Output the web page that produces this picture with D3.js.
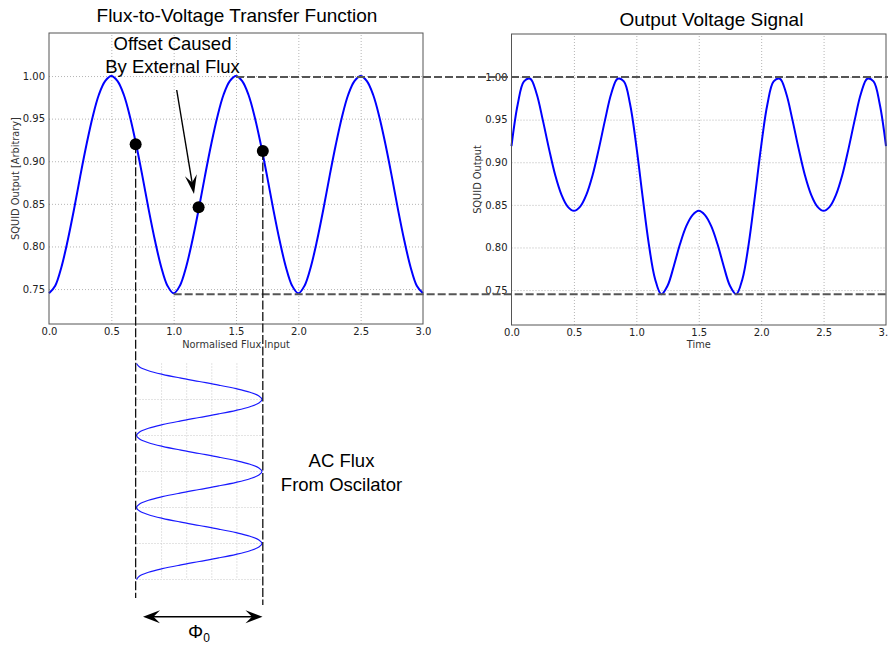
<!DOCTYPE html>
<html><head><meta charset="utf-8">
<script src="https://cdn.jsdelivr.net/npm/d3@7"></script>
<style>body{margin:0;background:#fff}</style>
</head><body>
<svg id="c" width="888" height="648"></svg>
<script>
// ---------- data ----------
const fluxInput = [0.00,0.05,0.10,0.15,0.20,0.25,0.30,0.35,0.40,0.45,0.50,0.55,0.60,0.65,0.70,0.75,0.80,0.85,0.90,0.95,
  1.00,1.05,1.10,1.15,1.20,1.25,1.30,1.35,1.40,1.45,1.50,1.55,1.60,1.65,1.70,1.75,1.80,1.85,1.90,1.95,
  2.00,2.05,2.10,2.15,2.20,2.25,2.30,2.35,2.40,2.45,2.50,2.55,2.60,2.65,2.70,2.75,2.80,2.85,2.90,2.95,3.00];
const squidOutput = [0.745,0.754,0.776,0.807,0.843,0.882,0.919,0.952,0.978,0.994,1.000,0.994,0.978,0.952,0.919,0.882,0.843,0.807,0.776,0.754,
  0.745,0.754,0.776,0.807,0.843,0.882,0.919,0.952,0.978,0.994,1.000,0.994,0.978,0.952,0.919,0.882,0.843,0.807,0.776,0.754,
  0.745,0.754,0.776,0.807,0.843,0.882,0.919,0.952,0.978,0.994,1.000,0.994,0.978,0.952,0.919,0.882,0.843,0.807,0.776,0.754,0.745];
const timeValues = [0.00,0.05,0.10,0.15,0.20,0.25,0.30,0.35,0.40,0.45,0.50,0.55,0.60,0.65,0.70,0.75,0.80,0.85,0.90,0.95,
  1.00,1.05,1.10,1.15,1.20,1.25,1.30,1.35,1.40,1.45,1.50,1.55,1.60,1.65,1.70,1.75,1.80,1.85,1.90,1.95,
  2.00,2.05,2.10,2.15,2.20,2.25,2.30,2.35,2.40,2.45,2.50,2.55,2.60,2.65,2.70,2.75,2.80,2.85,2.90,2.95,3.00];
const outputVoltage = [0.919,0.968,0.995,0.998,0.981,0.950,0.916,0.885,0.862,0.848,0.843,0.848,0.862,0.885,0.916,0.950,0.981,0.998,0.995,0.968,
  0.919,0.860,0.804,0.763,0.745,0.755,0.778,0.804,0.825,0.838,0.843,0.838,0.825,0.804,0.778,0.755,0.745,0.763,0.804,0.860,
  0.919,0.968,0.995,0.998,0.981,0.950,0.916,0.885,0.862,0.848,0.843,0.848,0.862,0.885,0.916,0.950,0.981,0.998,0.995,0.968,0.919];
const acTime = timeValues;
const acFlux = [-1,-0.951,-0.809,-0.588,-0.309,0,0.309,0.588,0.809,0.951,1,0.951,0.809,0.588,0.309,0,-0.309,-0.588,-0.809,-0.951,
  -1,-0.951,-0.809,-0.588,-0.309,0,0.309,0.588,0.809,0.951,1,0.951,0.809,0.588,0.309,0,-0.309,-0.588,-0.809,-0.951,
  -1,-0.951,-0.809,-0.588,-0.309,0,0.309,0.588,0.809,0.951,1,0.951,0.809,0.588,0.309,0,-0.309,-0.588,-0.809,-0.951,-1];
const markerFlux = [0.695, 1.200, 1.715];
const markerOutput = [0.920, 0.846, 0.912];
const xTicks = [0.0, 0.5, 1.0, 1.5, 2.0, 2.5, 3.0];
const yTicks = [0.75, 0.80, 0.85, 0.90, 0.95, 1.00];
const acGridX = [-0.6, -0.2, 0.2, 0.6];
const acGridY = [0.5, 1.0, 1.5, 2.0, 2.5, 3.0];
const levelMax = 1.000, levelMin = 0.745;
const titles = ["Flux-to-Voltage Transfer Function", "Output Voltage Signal"];

// ---------- drawing ----------
const svg = d3.select("#c");
svg.append("rect").attr("width",888).attr("height",648).attr("fill","#fff");
const TICKFONT = "'DejaVu Sans', sans-serif";
const BIGFONT = "'Liberation Sans', Arial, sans-serif";

const xL = d3.scaleLinear().domain([0,3]).range([49,423]);
const yL = d3.scaleLinear().domain([0.709,1.0505]).range([324,33]);
const xR = d3.scaleLinear().domain([0,3]).range([511.5,886]);
const yR = d3.scaleLinear().domain([0.709,1.0505]).range([325,34]);

function panel(x, y, xLabel, yLabel, yLabelX) {
  const g = svg.append("g");
  const [x0,x1] = x.range(), [y0,y1] = y.range();
  // grid
  g.append("g").attr("transform",`translate(0,${y0})`)
    .call(d3.axisBottom(x).tickValues(xTicks.slice(1,-1)).tickSize(-(y0-y1)).tickFormat(""))
    .call(a=>{a.select(".domain").remove();a.selectAll("line").attr("stroke","#b5b5b5").attr("stroke-dasharray","1,2");});
  g.append("g").attr("transform",`translate(${x0},0)`)
    .call(d3.axisLeft(y).tickValues(yTicks).tickSize(-(x1-x0)).tickFormat(""))
    .call(a=>{a.select(".domain").remove();a.selectAll("line").attr("stroke","#b5b5b5").attr("stroke-dasharray","1,2");});
  // tick labels
  g.append("g").attr("transform",`translate(0,${y0})`)
    .call(d3.axisBottom(x).tickValues(xTicks).tickSize(0).tickPadding(4).tickFormat(d3.format(".1f")))
    .call(a=>{a.select(".domain").remove();a.selectAll("text").attr("font-family",TICKFONT).attr("font-size",10).attr("fill","#222");});
  g.append("g").attr("transform",`translate(${x0},0)`)
    .call(d3.axisLeft(y).tickValues(yTicks).tickSize(0).tickPadding(4).tickFormat(d3.format(".2f")))
    .call(a=>{a.select(".domain").remove();a.selectAll("text").attr("font-family",TICKFONT).attr("font-size",10).attr("fill","#222");});
  g.append("text").attr("x",(x0+x1)/2).attr("y",348).attr("text-anchor","middle")
    .attr("font-family",TICKFONT).attr("font-size",9.8).attr("fill","#333").text(xLabel);
  g.append("text").attr("transform",`translate(${yLabelX},${(y0+y1)/2}) rotate(-90)`).attr("text-anchor","middle")
    .attr("font-family",TICKFONT).attr("font-size",9.8).attr("fill","#333").text(yLabel);
  return g;
}

const gL = panel(xL, yL, "Normalised Flux Input", "SQUID Output [Arbitrary]", 18.5);
const gR = panel(xR, yR, "Time", "SQUID Output", 481);

const lineL = d3.line().x((d,i)=>xL(fluxInput[i])).y(d=>yL(d)).curve(d3.curveCatmullRom);
gL.append("path").attr("d",lineL(squidOutput)).attr("fill","none").attr("stroke","#0000ff").attr("stroke-width",2);
const lineR = d3.line().x((d,i)=>xR(timeValues[i])).y(d=>yR(d)).curve(d3.curveCatmullRom);
gR.append("path").attr("d",lineR(outputVoltage)).attr("fill","none").attr("stroke","#0000ff").attr("stroke-width",2);

[[xL,yL],[xR,yR]].forEach(([x,y])=>{
  svg.append("rect").attr("x",x.range()[0]).attr("y",y.range()[1])
    .attr("width",x.range()[1]-x.range()[0]).attr("height",y.range()[0]-y.range()[1])
    .attr("fill","none").attr("stroke","#555").attr("stroke-width",1);
});

// titles
svg.append("text").attr("x",237).attr("y",22).attr("text-anchor","middle")
  .attr("font-family",BIGFONT).attr("font-size",19).text(titles[0]);
svg.append("text").attr("x",711.5).attr("y",26).attr("text-anchor","middle")
  .attr("font-family",BIGFONT).attr("font-size",19).text(titles[1]);

// AC flux panel
const xA = d3.scaleLinear().domain([-1,1]).range([136.5,262]);
const yA = d3.scaleLinear().domain([0,3]).range([363.5,579.5]);
const gA = svg.append("g");
acGridX.forEach(v=>gA.append("line").attr("x1",xA(v)).attr("x2",xA(v)).attr("y1",yA(0)).attr("y2",yA(3))
  .attr("stroke","#c8c8c8").attr("stroke-dasharray","1,2"));
acGridY.forEach(v=>gA.append("line").attr("x1",xA(-1)).attr("x2",xA(1)).attr("y1",yA(v)).attr("y2",yA(v))
  .attr("stroke","#c8c8c8").attr("stroke-dasharray","1,2"));
const lineA = d3.line().x(d=>xA(d)).y((d,i)=>yA(acTime[i])).curve(d3.curveCatmullRom);
gA.append("path").attr("d",lineA(acFlux)).attr("fill","none").attr("stroke","#1a1aff").attr("stroke-width",1.2);

// dashed level lines
svg.append("line").attr("x1",xL(1.5)).attr("x2",888).attr("y1",yR(levelMax)).attr("y2",yR(levelMax))
  .attr("stroke","#555").attr("stroke-width",2).attr("stroke-dasharray","8,3");
svg.append("line").attr("x1",xL(1.0)).attr("x2",888).attr("y1",yR(levelMin)).attr("y2",yR(levelMin))
  .attr("stroke","#555").attr("stroke-width",2).attr("stroke-dasharray","8,3");

// vertical dashed lines from markers
svg.append("line").attr("x1",xL(markerFlux[0])).attr("x2",xL(markerFlux[0]))
  .attr("y1",yL(markerOutput[0])).attr("y2",598)
  .attr("stroke","#111").attr("stroke-width",1.3).attr("stroke-dasharray","9,2.5");
svg.append("line").attr("x1",xL(markerFlux[2])).attr("x2",xL(markerFlux[2]))
  .attr("y1",yL(markerOutput[2])).attr("y2",605)
  .attr("stroke","#111").attr("stroke-width",1.3).attr("stroke-dasharray","9,2.5");

// markers
svg.selectAll("circle.m").data(markerFlux).enter().append("circle")
  .attr("cx",d=>xL(d)).attr("cy",(d,i)=>yL(markerOutput[i])).attr("r",6).attr("fill","#000");

// arrows
function arrowHead(tx,ty,dx,dy,L,W){
  const n=Math.hypot(dx,dy), ux=dx/n, uy=dy/n, px=-uy, py=ux;
  const bx=tx-ux*L, by=ty-uy*L, nx=tx-ux*L*0.62, ny=ty-uy*L*0.62;
  return `M${tx},${ty}L${bx+px*W/2},${by+py*W/2}L${nx},${ny}L${bx-px*W/2},${by-py*W/2}Z`;
}
const a0=[176.7,90], a1=[194,194];
svg.append("line").attr("x1",a0[0]).attr("y1",a0[1]).attr("x2",a1[0]-0.164*8).attr("y2",a1[1]-0.987*8)
  .attr("stroke","#000").attr("stroke-width",1.4);
svg.append("path").attr("d",arrowHead(a1[0],a1[1],a1[0]-a0[0],a1[1]-a0[1],19,12)).attr("fill","#000");

svg.append("line").attr("x1",150).attr("x2",255).attr("y1",616.7).attr("y2",616.7).attr("stroke","#000").attr("stroke-width",1.5);
svg.append("path").attr("d",arrowHead(143,616.7,-1,0,17,13)).attr("fill","#000");
svg.append("path").attr("d",arrowHead(262.5,616.7,1,0,17,13)).attr("fill","#000");

// annotations
const ann = (x,y,t,s)=>svg.append("text").attr("x",x).attr("y",y).attr("text-anchor","middle")
  .attr("font-family",BIGFONT).attr("font-size",s||18.5).attr("fill","#000").text(t);
ann(172.5,50,"Offset Caused");
ann(172.5,72.5,"By External Flux");
ann(341.5,466.5,"AC Flux");
ann(341.5,490.5,"From Oscilator");
const phi = svg.append("text").attr("x",199).attr("y",638).attr("text-anchor","middle")
  .attr("font-family",BIGFONT).attr("font-size",19).attr("fill","#000");
phi.append("tspan").text("Φ");
phi.append("tspan").attr("font-size",12).attr("dy",4).text("0");
</script>
</body></html>
